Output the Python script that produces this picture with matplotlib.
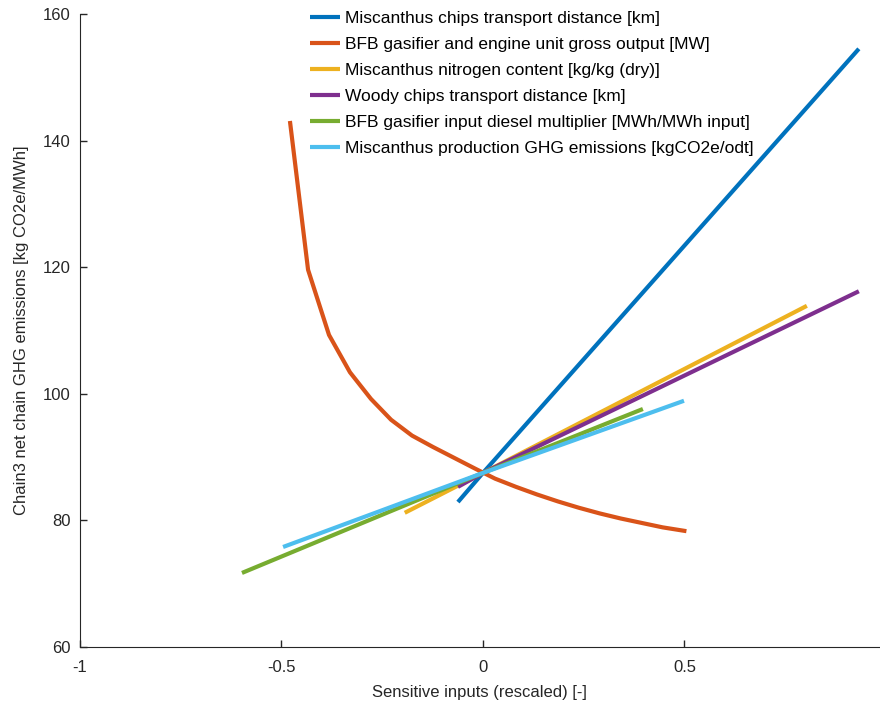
import matplotlib
matplotlib.use("Agg")
import matplotlib.pyplot as plt

plt.rcParams["font.family"] = ["Liberation Sans", "DejaVu Sans"]

# series (rescaled input, net GHG emissions)
labels = [
    "Miscanthus chips transport distance [km]",
    "BFB gasifier and engine unit gross output [MW]",
    "Miscanthus nitrogen content [kg/kg (dry)]",
    "Woody chips transport distance [km]",
    "BFB gasifier input diesel multiplier [MWh/MWh input]",
    "Miscanthus production GHG emissions [kgCO2e/odt]",
]
colors = ["#0072BD", "#D95319", "#EDB120", "#7E2F8E", "#77AC30", "#4DBEEE"]

x_misc_dist = [-0.062, 0.0, 0.933]
y_misc_dist = [82.9, 87.5, 154.5]

x_output = [-0.479, -0.434, -0.382, -0.330, -0.278, -0.228, -0.176, -0.124,
            -0.072, -0.020, 0.030, 0.082, 0.134, 0.186, 0.238, 0.290,
            0.342, 0.394, 0.446, 0.505]
y_output = [143.1, 119.6, 109.3, 103.4, 99.2, 95.9, 93.4, 91.6,
            89.9, 88.2, 86.6, 85.3, 84.1, 83.0, 82.0, 81.1,
            80.3, 79.6, 78.9, 78.3]

x_nitrogen = [-0.194, 0.0, 0.804]
y_nitrogen = [81.2, 87.5, 113.9]

x_woody = [-0.062, 0.0, 0.933]
y_woody = [85.3, 87.5, 116.2]

x_diesel = [-0.598, 0.0, 0.397]
y_diesel = [71.7, 87.5, 97.6]

x_prod = [-0.496, 0.0, 0.499]
y_prod = [75.8, 87.5, 98.9]

xs = [x_misc_dist, x_output, x_nitrogen, x_woody, x_diesel, x_prod]
ys = [y_misc_dist, y_output, y_nitrogen, y_woody, y_diesel, y_prod]

xticks = [-1, -0.5, 0, 0.5]
xtick_labels = ["-1", "-0.5", "0", "0.5"]
yticks = [60, 80, 100, 120, 140, 160]

fig = plt.figure(figsize=(8.8, 7.04), dpi=100)
ax = fig.add_axes([80 / 880, 1 - 647 / 704, 799 / 880, 633 / 704])

for x, y, c, lab in zip(xs, ys, colors, labels):
    ax.plot(x, y, color=c, lw=3, label=lab, solid_capstyle="butt")

ax.set_xlim(-1, 0.983)
ax.set_ylim(60, 160)
ax.set_xticks(xticks)
ax.set_xticklabels(xtick_labels)
ax.set_yticks(yticks)
ax.tick_params(direction="in", length=5, width=1, labelsize=12, colors="#262626")
ax.tick_params(axis="x", pad=9)
ax.tick_params(axis="y", pad=6.5)
ax.spines["top"].set_visible(False)
ax.spines["right"].set_visible(False)
for s in ["left", "bottom"]:
    ax.spines[s].set_color("#262626")
ax.set_xlabel("Sensitive inputs (rescaled) [-]", fontsize=12, color="#262626",
              labelpad=7.5)
ax.set_ylabel("Chain3 net chain GHG emissions [kg CO2e/MWh]", fontsize=12,
              color="#262626", labelpad=10)

ax.legend(loc="upper left", bbox_to_anchor=(303 / 880, 1 - 4 / 704),
          bbox_transform=fig.transFigure, frameon=False, fontsize=12.5,
          handlelength=1.73, handletextpad=0.29, labelspacing=0.62,
          borderaxespad=0)

fig.savefig("out.png", dpi=100)
